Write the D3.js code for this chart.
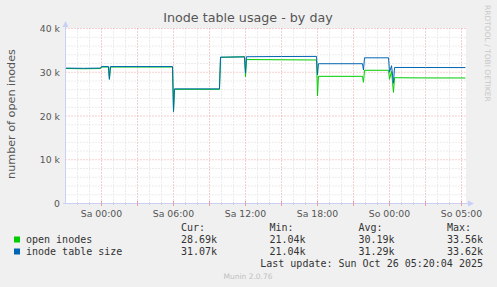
<!DOCTYPE html>
<html>
<head>
<meta charset="utf-8">
<script src="https://cdn.jsdelivr.net/npm/d3@7"></script>
<style>
    body { margin: 0; background: #f0f0f0; }
    svg { display: block; }
</style>
</head>
<body>
<div id="chart"></div>
<script>
// hours relative to Sa 00:00 (continuous, DST jump kept out)
const hours = [-3, -1.5, -0.08, 0, 0.58, 0.66, 0.74, 5.92, 6.0, 6.08, 9.83, 9.92, 11.92, 12.0, 12.08,
    15.0, 17.92, 18.0, 18.08, 21.75, 21.83, 21.92, 23.92, 24.0, 24.17, 24.33, 24.42, 27.0, 30.33];
const openInodes = [30850, 30800, 30850, 31200, 31200, 28400, 31200, 31200, 21040, 26100, 26100, 33400, 33560, 29000, 32900,
    32850, 32800, 24600, 29070, 29070, 27700, 30450, 30450, 28400, 30200, 25400, 28750, 28700, 28690];
const tableSize = [30950, 30900, 30950, 31300, 31300, 28400, 31300, 31300, 21040, 26200, 26200, 33450, 33500, 29800, 33550,
    33600, 33620, 29400, 31950, 31950, 30500, 33300, 33300, 30000, 31500, 27500, 31100, 31080, 31070];

const yTicks = [0, 10000, 20000, 30000, 40000];
const yTickLabels = ['0', '10 k', '20 k', '30 k', '40 k'];
const xTickHours = [0, 6, 12, 18, 24, 30];
const xTickLabels = ['Sa 00:00', 'Sa 06:00', 'Sa 12:00', 'Sa 18:00', 'So 00:00', 'So 05:00'];

const legendNames = ['open inodes', 'inode table size'];
const legendColors = ['#00cc00', '#0066b3'];
const statHeaders = ['Cur:', 'Min:', 'Avg:', 'Max:'];
const statsOpen = ['28.69k', '21.04k', '30.19k', '33.56k'];
const statsSize = ['31.07k', '21.04k', '31.29k', '33.62k'];

const width = 497, height = 287;
const svg = d3.select('#chart').append('svg')
    .attr('width', width)
    .attr('height', height);

svg.append('rect').attr('width', width).attr('height', height).attr('fill', '#f0f0f0');

const x = d3.scaleLinear().domain([-3, 30.333]).range([65.5, 465.5]);
const y = d3.scaleLinear().domain([0, 40000]).range([203.5, 28.5]);

// plot background
svg.append('rect')
    .attr('x', 66).attr('y', 28)
    .attr('width', 400).attr('height', 176)
    .attr('fill', '#ffffff');

// grid: minor every hour / 2k, major every 3h / 10k
const grid = svg.append('g');
const minorX = d3.range(-2, 31).filter(h => h % 3 !== 0);
const majorX = d3.range(-3, 31, 3).filter(h => h > -3);
const minorY = d3.range(2000, 40000, 2000).filter(v => v % 10000 !== 0);

grid.selectAll('.mx').data(minorX).enter().append('line')
    .attr('x1', d => x(d)).attr('x2', d => x(d))
    .attr('y1', y(0)).attr('y2', y(40000))
    .attr('stroke', '#d8d8d8').attr('stroke-dasharray', '1,2');
grid.selectAll('.my').data(minorY).enter().append('line')
    .attr('x1', x(-3)).attr('x2', x(30.333))
    .attr('y1', d => y(d)).attr('y2', d => y(d))
    .attr('stroke', '#d8d8d8').attr('stroke-dasharray', '1,2');
grid.selectAll('.Mx').data(majorX).enter().append('line')
    .attr('x1', d => x(d)).attr('x2', d => x(d))
    .attr('y1', y(0)).attr('y2', y(40000))
    .attr('stroke', '#eba0a0').attr('stroke-dasharray', '1,2');
grid.selectAll('.My').data(yTicks.filter(v => v > 0)).enter().append('line')
    .attr('x1', x(-3)).attr('x2', x(30.333))
    .attr('y1', d => y(d)).attr('y2', d => y(d))
    .attr('stroke', '#eba0a0').attr('stroke-dasharray', '1,2');

// series
const line = d3.line().x(d => x(d[0])).y(d => y(d[1]));
svg.append('path')
    .attr('d', line(hours.map((h, i) => [h, openInodes[i]])))
    .attr('fill', 'none').attr('stroke', legendColors[0]).attr('stroke-width', 1);
svg.append('path')
    .attr('d', line(hours.map((h, i) => [h, tableSize[i]])))
    .attr('fill', 'none').attr('stroke', legendColors[1]).attr('stroke-width', 1);

// axes
const axisColor = '#c8d0f5';
svg.append('line').attr('x1', 65.5).attr('x2', 65.5).attr('y1', 204).attr('y2', 25)
    .attr('stroke', axisColor);
svg.append('line').attr('x1', 63).attr('x2', 469).attr('y1', 203.5).attr('y2', 203.5)
    .attr('stroke', axisColor);
svg.append('path').attr('d', 'M62.5,27 L65.5,21 L68.5,27 Z').attr('fill', axisColor);
svg.append('path').attr('d', 'M468,200.5 L474,203.5 L468,206.5 Z').attr('fill', axisColor);

// ticks on axis
svg.selectAll('.xt').data(majorX).enter().append('line')
    .attr('x1', d => x(d)).attr('x2', d => x(d))
    .attr('y1', 201).attr('y2', 206)
    .attr('stroke', '#eba0a0');
svg.selectAll('.xtm').data(minorX).enter().append('line')
    .attr('x1', d => x(d)).attr('x2', d => x(d))
    .attr('y1', 202).attr('y2', 205)
    .attr('stroke', '#d0d0d0');

const labelFont = 'DejaVu Sans, sans-serif';
svg.selectAll('.yl').data(yTicks).enter().append('text')
    .attr('x', 60).attr('y', d => y(d) + 3.5)
    .attr('text-anchor', 'end')
    .attr('font-family', labelFont).attr('font-size', 9.3)
    .attr('fill', '#555')
    .text((d, i) => yTickLabels[i]);

svg.selectAll('.xl').data(xTickHours).enter().append('text')
    .attr('x', d => x(d)).attr('y', 216.5)
    .attr('text-anchor', 'middle')
    .attr('font-family', labelFont).attr('font-size', 9.3)
    .attr('fill', '#555')
    .text((d, i) => xTickLabels[i]);

// title and side texts
svg.append('text')
    .attr('x', 248).attr('y', 22)
    .attr('text-anchor', 'middle')
    .attr('font-family', labelFont).attr('font-size', 12.7)
    .attr('fill', '#555')
    .text('Inode table usage - by day');

svg.append('text')
    .attr('transform', 'translate(15,114) rotate(-90)')
    .attr('text-anchor', 'middle')
    .attr('font-family', labelFont).attr('font-size', 11.2)
    .attr('fill', '#555')
    .text('number of open inodes');

svg.append('text')
    .attr('transform', 'translate(485,5) rotate(90)')
    .attr('font-family', labelFont).attr('font-size', 7.5)
    .attr('fill', '#c8c8c8')
    .text('RRDTOOL / TOBI OETIKER');

// legend
const mono = 'DejaVu Sans Mono, monospace';
const statX = [181, 269.5, 358.5, 447];
svg.selectAll('.sh').data(statHeaders).enter().append('text')
    .attr('x', (d, i) => statX[i]).attr('y', 231)
    .attr('font-family', mono).attr('font-size', 10).attr('fill', '#333')
    .text(d => d);

[statsOpen, statsSize].forEach((stats, r) => {
    const rowY = 243 + r * 12;
    svg.append('rect')
        .attr('x', 14).attr('y', rowY - 6.5)
        .attr('width', 6).attr('height', 6)
        .attr('fill', legendColors[r]);
    svg.append('text')
        .attr('x', 26).attr('y', rowY)
        .attr('font-family', mono).attr('font-size', 10).attr('fill', '#333')
        .text(legendNames[r]);
    svg.selectAll('.sv' + r).data(stats).enter().append('text')
        .attr('x', (d, i) => statX[i]).attr('y', rowY)
        .attr('font-family', mono).attr('font-size', 10).attr('fill', '#333')
        .text(d => d);
});

svg.append('text')
    .attr('x', 483).attr('y', 267)
    .attr('text-anchor', 'end')
    .attr('font-family', mono).attr('font-size', 10).attr('fill', '#333')
    .text('Last update: Sun Oct 26 05:20:04 2025');

svg.append('text')
    .attr('x', 248).attr('y', 279)
    .attr('text-anchor', 'middle')
    .attr('font-family', labelFont).attr('font-size', 7.5)
    .attr('fill', '#c0c0c0')
    .text('Munin 2.0.76');
</script>
</body>
</html>
